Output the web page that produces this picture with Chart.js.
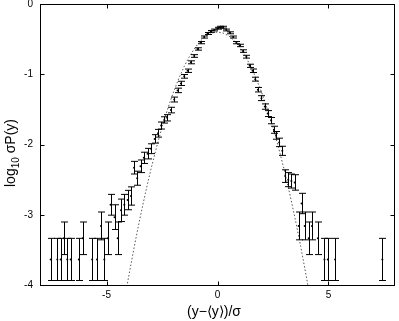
<!DOCTYPE html>
<html>
<head>
<meta charset="UTF-8">
<title>log10 sigma P(y)</title>
<style>
  body { margin: 0; background: #fff; }
  canvas { display: block; }
</style>
</head>
<body>
<script src="https://cdn.jsdelivr.net/npm/chart.js@4/dist/chart.umd.min.js"></script>
<canvas id="pdfChart" width="399" height="321"></canvas>
<script>
// measured histogram: bin centre, log10 value, half error (in log units)
var xs = [-7.52, -7.22, -7.07, -6.92, -6.77, -6.62, -6.25, -6.07, -5.65, -5.43,
          -5.25, -5.10, -4.94, -4.82, -4.64, -4.50, -4.35, -4.20, -4.05, -3.90,
          -3.76, -3.62, -3.47, -3.32, -3.15, -3.00, -2.83, -2.68, -2.54, -2.40,
          -2.27, -2.10, -1.95, -1.80, -1.65, -1.50, -1.35, -1.20, -1.05, -0.90,
          -0.75, -0.60, -0.45, -0.30, -0.15, 0.00, 0.10, 0.25, 0.40, 0.55,
          0.70, 0.85, 1.00, 1.15, 1.30, 1.45, 1.58, 1.70, 1.82, 1.98,
          2.13, 2.26, 2.42, 2.54, 2.64, 2.78, 2.92, 3.05, 3.19, 3.33,
          3.48, 3.66, 3.79, 3.93, 4.11, 4.26, 4.52, 4.82, 4.97, 5.30,
          7.43];
var ys = [-3.636, -3.636, -3.636, -3.335, -3.636, -3.636, -3.636, -3.335, -3.636, -3.636,
          -3.159, -3.636, -3.335, -2.858, -3.034, -3.335, -2.937, -2.858, -2.791, -2.733,
          -2.33, -2.48, -2.31, -2.19, -2.13, -2.06, -1.92, -1.84, -1.73, -1.65,
          -1.62, -1.51, -1.36, -1.23, -1.13, -1.03, -0.95, -0.83, -0.74, -0.64,
          -0.55, -0.47, -0.42, -0.39, -0.37, -0.345, -0.33, -0.33, -0.37, -0.41,
          -0.47, -0.55, -0.59, -0.67, -0.75, -0.88, -0.95, -1.07, -1.22, -1.34,
          -1.46, -1.56, -1.66, -1.79, -1.87, -1.97, -2.09, -2.45, -2.50, -2.52,
          -2.54, -3.159, -2.84, -3.159, -3.335, -3.159, -3.335, -3.636, -3.636, -3.636,
          -3.636];
var errs = [0.30, 0.30, 0.30, 0.232, 0.30, 0.30, 0.30, 0.232, 0.30, 0.30,
            0.198, 0.30, 0.232, 0.148, 0.176, 0.232, 0.16, 0.148, 0.138, 0.13,
            0.09, 0.10, 0.09, 0.08, 0.075, 0.07, 0.06, 0.055, 0.05, 0.045,
            0.045, 0.04, 0.035, 0.032, 0.03, 0.026, 0.024, 0.021, 0.019, 0.017,
            0.016, 0.015, 0.014, 0.013, 0.013, 0.013, 0.013, 0.013, 0.013, 0.014,
            0.014, 0.016, 0.017, 0.018, 0.02, 0.023, 0.025, 0.028, 0.032, 0.035,
            0.038, 0.042, 0.045, 0.05, 0.055, 0.06, 0.065, 0.09, 0.10, 0.10,
            0.11, 0.198, 0.145, 0.198, 0.232, 0.198, 0.232, 0.30, 0.30, 0.30,
            0.30];

// dotted reference curve (gaussian)
var curveX = [-4.25, -4.0, -3.75, -3.5, -3.25, -3.0, -2.75, -2.5, -2.25, -2.0, -1.75, -1.5, -1.25, -1.0, -0.75, -0.5, -0.25, 0.0,
              0.25, 0.5, 0.75, 1.0, 1.25, 1.5, 1.75, 2.0, 2.25, 2.5, 2.75, 3.0, 3.25, 3.5, 3.75, 4.0, 4.25];
var curveY = [-4.32, -3.873, -3.452, -3.058, -2.692, -2.353, -2.041, -1.756, -1.498, -1.267, -1.064, -0.888, -0.738, -0.616, -0.521, -0.453, -0.413, -0.399,
              -0.413, -0.453, -0.521, -0.616, -0.738, -0.888, -1.064, -1.267, -1.498, -1.756, -2.041, -2.353, -2.692, -3.058, -3.452, -3.873, -4.32];

var xTicks = [-5, 0, 5];
var yTicks = [-4, -3, -2, -1, 0];

var points = xs.map(function (v, i) { return { x: v, y: ys[i] }; });
var curve = curveX.map(function (v, i) { return { x: v, y: curveY[i] }; });

var tickFont = { family: 'Liberation Sans, Helvetica, Arial', size: 10 };

// vertical error bars with small caps
var errorBars = {
  id: 'errorBars',
  afterDatasetsDraw: function (chart) {
    var ctx = chart.ctx, x = chart.scales.x, y = chart.scales.y, a = chart.chartArea;
    ctx.save();
    ctx.beginPath();
    ctx.rect(a.left, a.top, a.right - a.left, a.bottom - a.top);
    ctx.clip();
    ctx.strokeStyle = '#000';
    ctx.lineWidth = 1;
    for (var i = 0; i < xs.length; i++) {
      var px = Math.round(x.getPixelForValue(xs[i])) + 0.5;
      var top = y.getPixelForValue(ys[i] + errs[i]);
      var bot = y.getPixelForValue(ys[i] - errs[i]);
      ctx.beginPath();
      ctx.moveTo(px, top); ctx.lineTo(px, bot);
      ctx.moveTo(px - 3.5, top); ctx.lineTo(px + 3.5, top);
      ctx.moveTo(px - 3.5, bot); ctx.lineTo(px + 3.5, bot);
      ctx.stroke();
    }
    ctx.restore();
  }
};

// gnuplot style border with inward ticks on all four sides, plus axis titles
var frame = {
  id: 'frame',
  afterDraw: function (chart) {
    var ctx = chart.ctx, x = chart.scales.x, y = chart.scales.y, a = chart.chartArea;
    var L = Math.round(a.left) + 0.5, R = Math.round(a.right) - 0.5;
    var T = Math.round(a.top) + 0.5, B = Math.round(a.bottom) + 0.5;
    ctx.save();
    ctx.strokeStyle = '#000';
    ctx.lineWidth = 1;
    ctx.strokeRect(L, T, R - L, B - T);
    ctx.beginPath();
    xTicks.forEach(function (v) {
      var px = Math.round(x.getPixelForValue(v)) + 0.5;
      ctx.moveTo(px, B); ctx.lineTo(px, B - 4);
      ctx.moveTo(px, T); ctx.lineTo(px, T + 4);
    });
    yTicks.forEach(function (v) {
      var py = Math.round(y.getPixelForValue(v)) + 0.5;
      ctx.moveTo(L, py); ctx.lineTo(L + 4, py);
      ctx.moveTo(R, py); ctx.lineTo(R - 4, py);
    });
    ctx.stroke();

    ctx.fillStyle = '#000';
    ctx.textBaseline = 'alphabetic';
    // x title
    ctx.font = '14px Liberation Sans, Helvetica, Arial';
    ctx.textAlign = 'center';
    ctx.fillText('(y\u2212\u27E8y\u27E9)/\u03C3', 214, 316);
    // y title, rotated
    ctx.translate(15, 153);
    ctx.rotate(-Math.PI / 2);
    ctx.textAlign = 'left';
    var parts = [['log', '14px', 0], ['10', '10px', 4], [' \u03C3P(y)', '14px', 0]];
    var w = 0;
    parts.forEach(function (p) { ctx.font = p[1] + ' Liberation Sans, Helvetica, Arial'; w += ctx.measureText(p[0]).width; });
    var cx = -w / 2;
    parts.forEach(function (p) {
      ctx.font = p[1] + ' Liberation Sans, Helvetica, Arial';
      ctx.fillText(p[0], cx, p[2]);
      cx += ctx.measureText(p[0]).width;
    });
    ctx.restore();
  }
};

function noPad(s) {
  s.paddingTop = 0; s.paddingBottom = 0; s.paddingLeft = 0; s.paddingRight = 0;
}

var ctx = document.getElementById('pdfChart').getContext('2d');
var myChart = new Chart(ctx, {
  type: 'scatter',
  data: {
    datasets: [{
      data: points,
      pointRadius: 1,
      pointBackgroundColor: '#000',
      pointBorderWidth: 0,
      showLine: false
    }, {
      data: curve,
      showLine: true,
      pointRadius: 0,
      borderColor: '#555',
      borderWidth: 1,
      borderDash: [1.5, 2]
    }]
  },
  options: {
    responsive: false,
    animation: false,
    layout: { padding: { top: 3, right: 1, left: 0, bottom: 0 } },
    plugins: { legend: { display: false }, tooltip: { enabled: false } },
    scales: {
      x: {
        type: 'linear', min: -8, max: 8,
        afterBuildTicks: function (s) { s.ticks = xTicks.map(function (v) { return { value: v }; }); },
        afterFit: function (s) { s.height = 36; noPad(s); },
        grid: { display: false, drawTicks: false },
        border: { display: false },
        ticks: { padding: 4, font: tickFont, color: '#000', maxRotation: 0 }
      },
      y: {
        min: -4, max: 0,
        afterBuildTicks: function (s) { s.ticks = yTicks.map(function (v) { return { value: v }; }); },
        afterFit: function (s) { s.width = 40; noPad(s); },
        grid: { display: false, drawTicks: false },
        border: { display: false },
        ticks: { padding: 7, font: tickFont, color: '#000' }
      }
    }
  },
  plugins: [errorBars, frame]
});
</script>
</body>
</html>
